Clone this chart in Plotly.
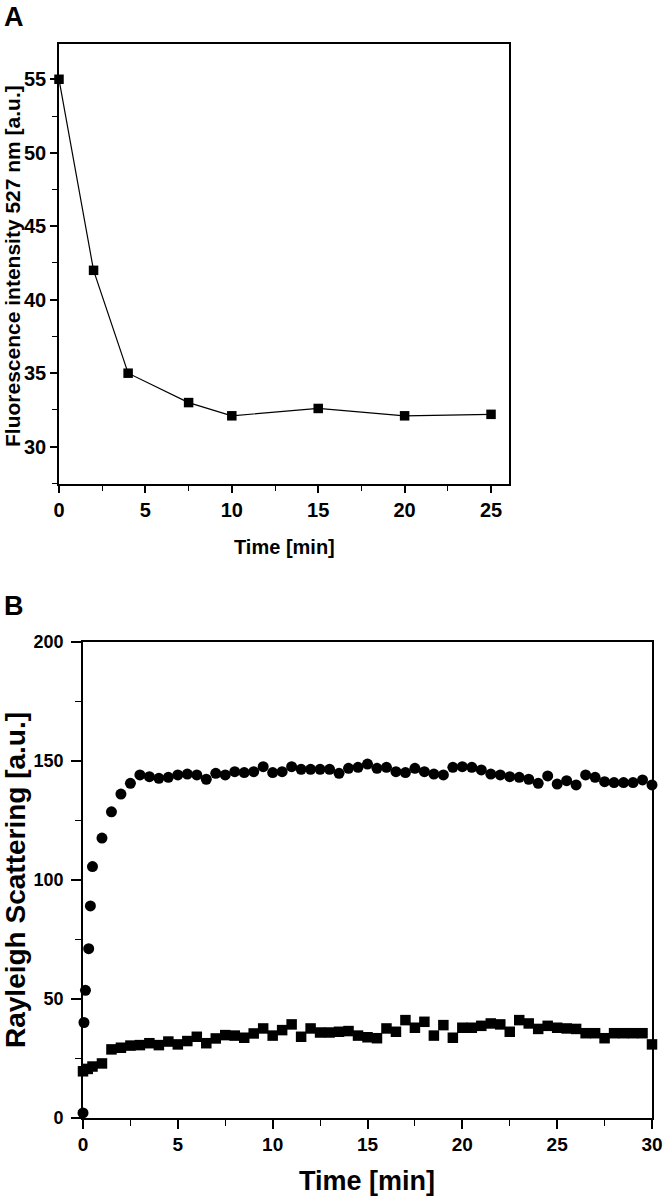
import plotly.graph_objects as go

# ---------------- Panel A data ----------------
a_time = [0, 2, 4, 7.5, 10, 15, 20, 25]
a_fluorescence = [55, 42, 35, 33, 32.1, 32.6, 32.1, 32.2]

# ---------------- Panel B data ----------------
b_circle_time = [0, 0.05, 0.13, 0.3, 0.39, 0.5, 1.0, 1.5, 2.0, 2.5,
                 3.0, 3.5, 4.0, 4.5, 5.0, 5.5, 6.0, 6.5, 7.0, 7.5,
                 8.0, 8.5, 9.0, 9.5, 10.0, 10.5, 11.0, 11.5, 12.0, 12.5,
                 13.0, 13.5, 14.0, 14.5, 15.0, 15.5, 16.0, 16.5, 17.0, 17.5,
                 18.0, 18.5, 19.0, 19.5, 20.0, 20.5, 21.0, 21.5, 22.0, 22.5,
                 23.0, 23.5, 24.0, 24.5, 25.0, 25.5, 26.0, 26.5, 27.0, 27.5,
                 28.0, 28.5, 29.0, 29.5, 30.0]
b_circle_value = [2, 40, 53.5, 71, 89, 105.5, 117.5, 128.5, 136, 140.5,
                  144.0, 143.3, 142.6, 143.0, 144.0, 144.4, 144.0, 142.2, 144.7, 144.0,
                  145.4, 145.0, 145.4, 147.5, 145.0, 145.4, 147.5, 146.4, 146.4, 146.4,
                  146.4, 144.7, 146.8, 147.2, 148.6, 146.8, 147.2, 145.4, 145.0, 146.8,
                  145.4, 144.4, 144.0, 147.2, 147.5, 147.2, 146.1, 144.4, 144.0, 143.3,
                  143.0, 142.2, 140.5, 143.6, 140.2, 141.6, 139.8, 144.0, 143.0, 141.2,
                  140.8, 140.8, 140.8, 141.9, 139.8]

b_square_time = [0, 0.25, 0.5, 1.0, 1.5, 2.0, 2.5, 3.0, 3.5, 4.0,
                 4.5, 5.0, 5.5, 6.0, 6.5, 7.0, 7.5, 8.0, 8.5, 9.0,
                 9.5, 10.0, 10.5, 11.0, 11.5, 12.0, 12.5, 13.0, 13.5, 14.0,
                 14.5, 15.0, 15.5, 16.0, 16.5, 17.0, 17.5, 18.0, 18.5, 19.0,
                 19.5, 20.0, 20.5, 21.0, 21.5, 22.0, 22.5, 23.0, 23.5, 24.0,
                 24.5, 25.0, 25.5, 26.0, 26.5, 27.0, 27.5, 28.0, 28.5, 29.0,
                 29.5, 30.0]
b_square_value = [19.5, 20.5, 21.5, 22.8, 28.7, 29.4, 30.3, 30.5, 31.3, 30.5,
                  32.0, 30.8, 32.2, 34.0, 31.3, 33.3, 34.7, 34.5, 33.6, 35.4,
                  37.5, 34.5, 36.8, 39.2, 34.0, 37.5, 35.8, 35.8, 36.1, 36.4,
                  34.5, 33.8, 33.4, 37.5, 36.1, 41.0, 37.8, 40.3, 34.5, 38.9,
                  33.6, 37.8, 37.8, 38.6, 39.6, 39.2, 36.1, 41.0, 39.6, 37.3,
                  38.6, 37.8, 37.5, 37.3, 35.5, 35.5, 33.4, 35.5, 35.5, 35.5,
                  35.5, 30.8]

# ---------------- Figure ----------------
W, H = 664, 1199
FONT = "Liberation Sans, Arial, Helvetica, sans-serif"


def px_x(p):
    return p / W


def px_y(p):
    return 1 - p / H


fig = go.Figure()

fig.add_trace(go.Scatter(
    x=a_time, y=a_fluorescence, mode="lines+markers",
    line=dict(color="black", width=1.2),
    marker=dict(symbol="square", size=9.5, color="black"),
    xaxis="x", yaxis="y", cliponaxis=False, showlegend=False))

fig.add_trace(go.Scatter(
    x=b_circle_time, y=b_circle_value, mode="markers",
    marker=dict(symbol="circle", size=11, color="black"),
    xaxis="x2", yaxis="y2", cliponaxis=False, showlegend=False))

fig.add_trace(go.Scatter(
    x=b_square_time, y=b_square_value, mode="markers",
    marker=dict(symbol="square", size=10.5, color="black"),
    xaxis="x2", yaxis="y2", cliponaxis=False, showlegend=False))

axis_common = dict(
    showline=True, linecolor="black", linewidth=1.6, mirror=True,
    ticks="outside", tickcolor="black", tickwidth=1.5,
    showgrid=False, zeroline=False, automargin=False,
)

fig.update_layout(
    template="none",
    width=W, height=H,
    margin=dict(l=0, r=0, t=0, b=0, pad=0),
    paper_bgcolor="white", plot_bgcolor="white",
    font=dict(family=FONT, color="black"),
    showlegend=False,
    xaxis=dict(
        **axis_common, domain=[px_x(59), px_x(509)], anchor="y",
        range=[0, 26.04], tickmode="linear", tick0=0, dtick=5, ticklen=7,
        minor=dict(ticks="outside", dtick=2.5, tick0=0, ticklen=5, tickcolor="black", tickwidth=1.2),
        tickfont=dict(family=FONT, size=20, color="black", weight="bold"),
    ),
    yaxis=dict(
        **axis_common, domain=[px_y(484), px_y(44)], anchor="x",
        range=[27.46, 57.4], tickmode="linear", tick0=30, dtick=5, ticklen=7,
        minor=dict(ticks="outside", dtick=2.5, tick0=30, ticklen=5, tickcolor="black", tickwidth=1.2),
        tickfont=dict(family=FONT, size=20, color="black", weight="bold"),
    ),
    xaxis2=dict(
        **axis_common, domain=[px_x(83), px_x(652)], anchor="y2",
        range=[0, 30], tickmode="linear", tick0=0, dtick=5, ticklen=9,
        minor=dict(ticks="outside", dtick=2.5, tick0=0, ticklen=6, tickcolor="black", tickwidth=1.2),
        tickfont=dict(family=FONT, size=19, color="black", weight="bold"),
    ),
    yaxis2=dict(
        **axis_common, domain=[px_y(1117.7), px_y(641.7)], anchor="x2",
        range=[0, 200], tickmode="linear", tick0=0, dtick=50, ticklen=10,
        ticklabelstandoff=4,
        minor=dict(ticks="outside", dtick=25, tick0=0, ticklen=6, tickcolor="black", tickwidth=1.2),
        tickfont=dict(family=FONT, size=18, color="black", weight="bold"),
    ),
)

annotations = [
    dict(text="<b>A</b>", x=px_x(2), y=px_y(17), xanchor="left", yanchor="middle",
         font=dict(size=27)),
    dict(text="<b>B</b>", x=px_x(2), y=px_y(606), xanchor="left", yanchor="middle",
         font=dict(size=27)),
    dict(text="<b>Time [min]</b>", x=px_x(284), y=px_y(547), xanchor="center", yanchor="middle",
         font=dict(size=20)),
    dict(text="<b>Fluorescence intensity 527 nm [a.u.]</b>", x=px_x(13), y=px_y(266),
         xanchor="center", yanchor="middle", textangle=-90, font=dict(size=21)),
    dict(text="<b>Time [min]</b>", x=px_x(367), y=px_y(1181), xanchor="center", yanchor="middle",
         font=dict(size=27)),
    dict(text="<b>Rayleigh Scattering [a.u.]</b>", x=px_x(15), y=px_y(880),
         xanchor="center", yanchor="middle", textangle=-90, font=dict(size=28)),
]
for a in annotations:
    a.update(xref="paper", yref="paper", showarrow=False)
    a["font"].update(family=FONT, color="black")
fig.update_layout(annotations=annotations)

fig.write_html("out.html", config={"displayModeBar": False},
               post_script="document.body.style.margin='0px';")
